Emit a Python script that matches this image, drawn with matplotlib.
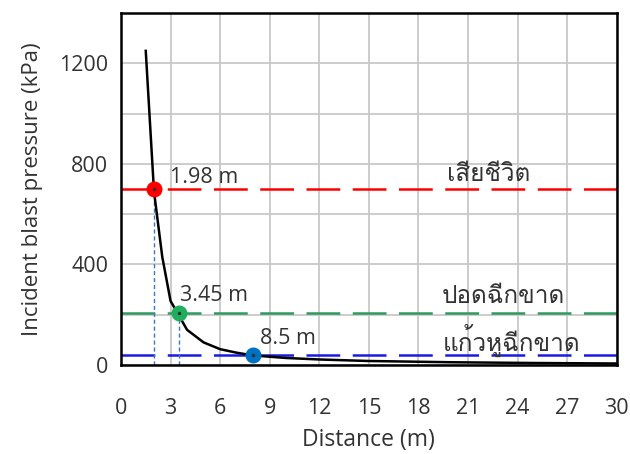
import matplotlib
matplotlib.use("Agg")
import matplotlib.pyplot as plt
from matplotlib import font_manager as fm
from matplotlib.ft2font import FT2Font

# ---- data ----
distance = [1.5, 2.0, 2.5, 3.0, 4.0, 5.0, 6.0, 7.0, 8.0, 10.0, 12.0, 15.0, 20.0, 25.0, 30.0]
pressure = [1250, 690, 430, 255, 140, 90, 63, 49, 38, 28, 22, 16, 11, 8, 6]

thresholds = [700, 205, 38]
threshold_labels = ["เสียชีวิต", "ปอดฉีกขาด", "แก้วหูฉีกขาด"]
threshold_colors = ["#FF0000", "#2E9A5E", "#1A1AE6"]

point_x = [1.98, 3.5, 8.0]
point_y = [700, 205, 38]
point_labels = ["1.98 m", "3.45 m", "8.5 m"]
point_colors = ["#FF0000", "#1FAE5E", "#0070C0"]

xticks = [0, 3, 6, 9, 12, 15, 18, 21, 24, 27, 30]
yticks = [0, 400, 800, 1200]

# ---- find a font with Thai glyphs ----
thai_family = None
for f in fm.fontManager.ttflist:
    try:
        cm = FT2Font(f.fname).get_charmap()
        if 0x0E40 in cm and 0x0E35 in cm and 0x0E01 in cm:
            thai_family = f.name
            break
    except Exception:
        pass

base = "Open Sans"
fams = [base] + ([thai_family] if thai_family else []) + ["DejaVu Sans"]
plt.rcParams['font.family'] = fams

TXT = "#333333"

fig = plt.figure(figsize=(6.3, 4.54), dpi=100)
ax = fig.add_axes([0.192, 0.196, 0.787, 0.775])

ax.set_xlim(0, 30)
ax.set_ylim(0, 1400)
ax.set_xticks(range(0, 31, 3))
ax.set_xticklabels([str(t) for t in xticks])
ax.set_yticks(range(0, 1401, 200), minor=False)
ax.set_yticklabels([str(v) if v in yticks else "" for v in range(0, 1401, 200)])
ax.grid(True, color="#C8C8C8", linewidth=1.3)
ax.set_axisbelow(True)
ax.tick_params(axis='both', length=0, labelsize=15.5, colors=TXT)
ax.tick_params(axis='x', pad=24)
ax.tick_params(axis='y', pad=9)
for s in ax.spines.values():
    s.set_linewidth(1.8)
    s.set_color("black")

# threshold lines
for yv, c in zip(thresholds, threshold_colors):
    ax.plot([0, 30], [yv, yv], color=c, lw=1.8, dashes=(13.5, 5.0), zorder=2)

thai_x = [19.7, 19.4, 19.5]
thai_y = [755, 270, 99]
for tx, ty, lab in zip(thai_x, thai_y, threshold_labels):
    ax.text(tx, ty, lab, fontsize=17.5, ha='left', va='center', color=TXT)

# vertical drop lines
for px, py in zip(point_x[:2], point_y[:2]):
    ax.plot([px, px], [0, py], color="#4472C4", lw=1.0, dashes=(3, 2), zorder=2)

# curve
ax.plot(distance, pressure, color="black", lw=1.8, zorder=3)

# points
for px, py, c in zip(point_x, point_y, point_colors):
    ax.plot([px], [py], marker='o', markersize=10.5, color=c, markeredgecolor=c, zorder=4)
    ax.plot([px], [py], marker='o', markersize=1.5, color="#333333", zorder=5)

lab_x = [2.96, 3.57, 8.4]
lab_y = [748, 278, 107]
for lx, ly, lab in zip(lab_x, lab_y, point_labels):
    ax.text(lx, ly, lab, fontsize=15.5, ha='left', va='center', color=TXT)

ax.set_xlabel("Distance (m)", fontsize=16.5, labelpad=6, color=TXT)
ax.set_ylabel("Incident blast pressure (kPa)", fontsize=16, labelpad=12, color=TXT)

fig.savefig("out.png", dpi=100)
